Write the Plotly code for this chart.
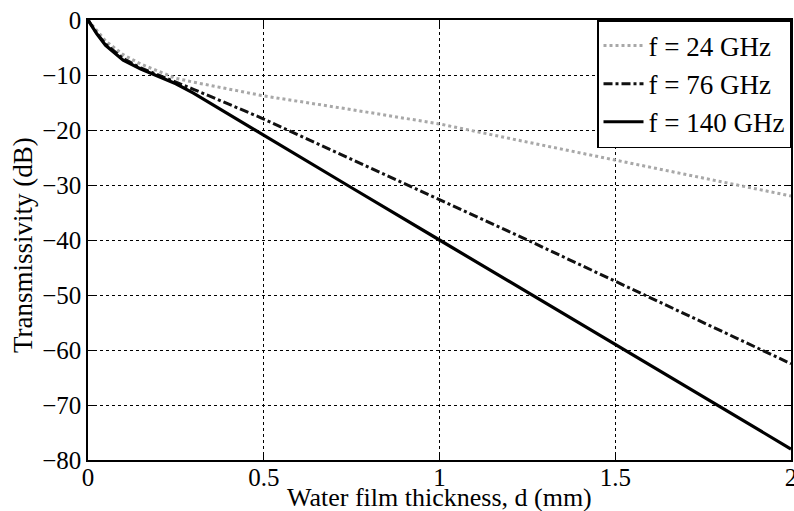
import plotly.graph_objects as go

# Water film thickness d (mm)
thickness = [0, 0.025, 0.05, 0.1, 0.15, 0.2, 0.25, 0.3, 0.5, 0.75, 1.0, 1.25, 1.5, 1.75, 2.0]

# Transmissivity (dB)
t_24ghz = [0, -2.0, -3.8, -6.3, -8.0, -9.3, -10.6, -11.3, -13.8, -16.3, -18.9, -22.2, -25.5, -28.8, -32.0]
t_76ghz = [0, -2.4, -4.4, -7.0, -8.7, -10.0, -11.3, -12.6, -18.0, -25.3, -32.6, -40.0, -47.5, -55.0, -62.5]
t_140ghz = [0, -2.5, -4.6, -7.3, -8.9, -10.2, -11.6, -13.3, -21.0, -30.5, -40.0, -49.5, -59.0, -68.5, -78.0]

series_names = ["f = 24 GHz", "f = 76 GHz", "f = 140 GHz"]

x_ticks = [0, 0.5, 1, 1.5, 2]
x_tick_labels = ["0", "0.5", "1", "1.5", "2"]
y_ticks = [0, -10, -20, -30, -40, -50, -60, -70, -80]

x_title = "Water film thickness, d (mm)"
y_title = "Transmissivity (dB)"

FONT = "Liberation Serif"

fig = go.Figure()
fig.add_trace(go.Scatter(x=thickness, y=t_24ghz, mode="lines", name=series_names[0],
                         line=dict(color="#a8a8a8", width=3, dash="dot")))
fig.add_trace(go.Scatter(x=thickness, y=t_76ghz, mode="lines", name=series_names[1],
                         line=dict(color="#111111", width=3, dash="dashdot")))
fig.add_trace(go.Scatter(x=thickness, y=t_140ghz, mode="lines", name=series_names[2],
                         line=dict(color="#000000", width=3.2)))

axis_common = dict(
    showline=True, linecolor="black", linewidth=1.5, mirror="ticks",
    ticks="inside", ticklen=6, tickcolor="black", tickwidth=1.2,
    showgrid=True, gridcolor="black", gridwidth=1, griddash="dot",
    zeroline=False, ticklabeloverflow="allow", automargin=False,
    tickfont=dict(family=FONT, size=25, color="black"),
)

fig.update_layout(
    width=794, height=511,
    margin=dict(l=88, r=3, t=20, b=51),
    paper_bgcolor="white", plot_bgcolor="white",
    font=dict(family=FONT, color="black"),
    xaxis=dict(range=[0, 2], tickvals=x_ticks, ticktext=x_tick_labels,
               ticklabelstandoff=-6, **axis_common),
    yaxis=dict(range=[-80, 0], tickvals=y_ticks, **axis_common),
    legend=dict(x=1, y=1, xanchor="right", yanchor="top",
                bgcolor="white", bordercolor="black", borderwidth=1.5,
                itemwidth=40,
                font=dict(family=FONT, size=27, color="black")),
    showlegend=True,
    annotations=[
        dict(text=x_title, xref="paper", yref="paper", x=0.5, y=-0.085,
             xanchor="center", yanchor="middle", showarrow=False,
             font=dict(family=FONT, size=26, color="black")),
        dict(text=y_title, xref="paper", yref="paper", x=-0.0925, y=0.4886,
             xanchor="center", yanchor="middle", textangle=-90, showarrow=False,
             font=dict(family=FONT, size=27, color="black")),
    ],
)

fig.write_html("out.html")
